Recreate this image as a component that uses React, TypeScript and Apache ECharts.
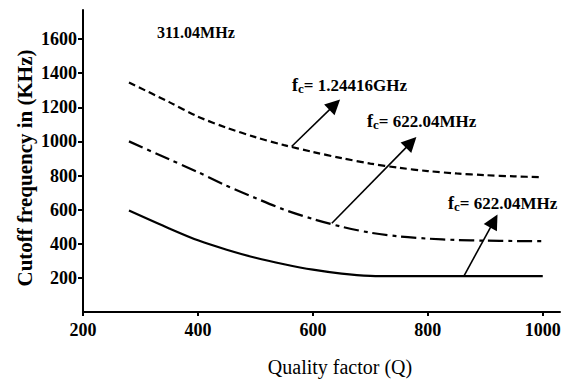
import React, { useEffect, useRef } from "react";
import * as echarts from "echarts";

const qualityFactor = [280, 350, 400, 450, 500, 550, 600, 650, 700, 750, 800, 850, 900, 950, 1000];
const cutoff124416GHz = [1345, 1230, 1145, 1080, 1025, 978, 938, 902, 870, 845, 826, 812, 802, 795, 790];
const cutoff62204MHz = [1000, 895, 820, 740, 668, 600, 545, 500, 465, 443, 430, 422, 418, 416, 415];
const cutoff31104MHz = [595, 490, 420, 365, 318, 280, 248, 225, 212, 210, 210, 210, 210, 210, 210];

const xTicks = [200, 400, 600, 800, 1000];
const yTicks = [200, 400, 600, 800, 1000, 1200, 1400, 1600];

// arrow annotations in data coordinates: [tailQ, tailV, headQ, headV]
const arrowTop = [563, 970, 638, 1215];
const arrowMid = [633, 520, 771, 994];
const arrowLow = [863, 212, 915, 533];

const FONT = "Liberation Serif";

function pairs(xs: number[], ys: number[]) {
  return xs.map((x, i) => [x, ys[i]]);
}

function arrow(a: number[]) {
  return {
    silent: true,
    symbol: ["none", "triangle"],
    symbolSize: 15,
    label: { show: false },
    lineStyle: { color: "#000", width: 1.6, type: "solid" },
    emphasis: { disabled: true },
    data: [[{ coord: [a[0], a[1]] }, { coord: [a[2], a[3]] }]],
  };
}

function fcText(x: number, y: number, rest: string) {
  return {
    type: "text",
    x,
    y,
    style: {
      text: "{f|f}{c|c}{r|" + rest + "}",
      fill: "#000",
      verticalAlign: "middle",
      rich: {
        f: { fontFamily: FONT, fontWeight: "bold", fontSize: 18, lineHeight: 20, fill: "#000" },
        c: { fontFamily: FONT, fontWeight: "bold", fontSize: 13, lineHeight: 13, verticalAlign: "bottom", fill: "#000" },
        r: { fontFamily: FONT, fontWeight: "bold", fontSize: 17, lineHeight: 20, fill: "#000" },
      },
    },
  };
}

export default function App() {
  const ref = useRef<HTMLDivElement>(null);
  useEffect(() => {
    if (!ref.current) return;
    const chart = echarts.init(ref.current, null, { renderer: "svg" });
    const axisLabelStyle = {
      fontFamily: FONT,
      fontWeight: "bold",
      fontSize: 18,
      color: "#000",
      formatter: (v: number) => String(v),
    };
    chart.setOption({
      animation: false,
      backgroundColor: "#fff",
      textStyle: { fontFamily: FONT },
      grid: { left: 83, right: 6, top: 10, bottom: 69, containLabel: false },
      xAxis: {
        type: "value",
        min: 200,
        max: 1030,
        interval: 200,
        splitLine: { show: false },
        axisLine: { show: true, lineStyle: { color: "#000", width: 2 } },
        axisTick: { show: true, length: 4, lineStyle: { color: "#000", width: 2 }, customValues: xTicks },
        axisLabel: { ...axisLabelStyle, margin: 9, customValues: xTicks },
      },
      yAxis: {
        type: "value",
        min: 0,
        max: 1770,
        interval: 200,
        splitLine: { show: false },
        axisLine: { show: true, lineStyle: { color: "#000", width: 2 } },
        axisTick: { show: true, length: 5, lineStyle: { color: "#000", width: 2 }, customValues: yTicks },
        axisLabel: { ...axisLabelStyle, margin: 6, customValues: yTicks },
      },
      series: [
        {
          type: "line",
          name: "fc = 1.24416GHz",
          data: pairs(qualityFactor, cutoff124416GHz),
          smooth: 0.3,
          showSymbol: false,
          lineStyle: { color: "#000", width: 2.2, type: [7, 4] },
          markLine: arrow(arrowTop),
        },
        {
          type: "line",
          name: "fc = 622.04MHz",
          data: pairs(qualityFactor, cutoff62204MHz),
          smooth: 0.3,
          showSymbol: false,
          lineStyle: { color: "#000", width: 2.2, type: [15, 5, 4, 5] },
          markLine: arrow(arrowMid),
        },
        {
          type: "line",
          name: "311.04MHz",
          data: pairs(qualityFactor, cutoff31104MHz),
          smooth: 0.3,
          showSymbol: false,
          lineStyle: { color: "#000", width: 2.2, type: "solid" },
          markLine: arrow(arrowLow),
        },
      ],
      graphic: [
        {
          type: "text",
          x: 25,
          y: 168,
          rotation: Math.PI / 2,
          style: {
            text: "Cutoff frequency in (KHz)",
            fontFamily: FONT,
            fontWeight: "bold",
            fontSize: 21,
            fill: "#000",
            align: "center",
            verticalAlign: "middle",
          },
        },
        {
          type: "text",
          x: 340,
          y: 367,
          style: {
            text: "Quality factor (Q)",
            fontFamily: FONT,
            fontSize: 20,
            fill: "#000",
            align: "center",
            verticalAlign: "middle",
          },
        },
        {
          type: "text",
          x: 157,
          y: 32,
          style: {
            text: "311.04MHz",
            fontFamily: FONT,
            fontWeight: "bold",
            fontSize: 16,
            fill: "#000",
            verticalAlign: "middle",
          },
        },
        fcText(292, 85, "= 1.24416GHz"),
        fcText(367, 121, "= 622.04MHz"),
        fcText(448, 203, "= 622.04MHz"),
      ],
    });
    return () => chart.dispose();
  }, []);
  return (
    <div
      ref={ref}
      style={{ position: "fixed", left: 0, top: 0, width: 566, height: 381, background: "#fff" }}
    />
  );
}
